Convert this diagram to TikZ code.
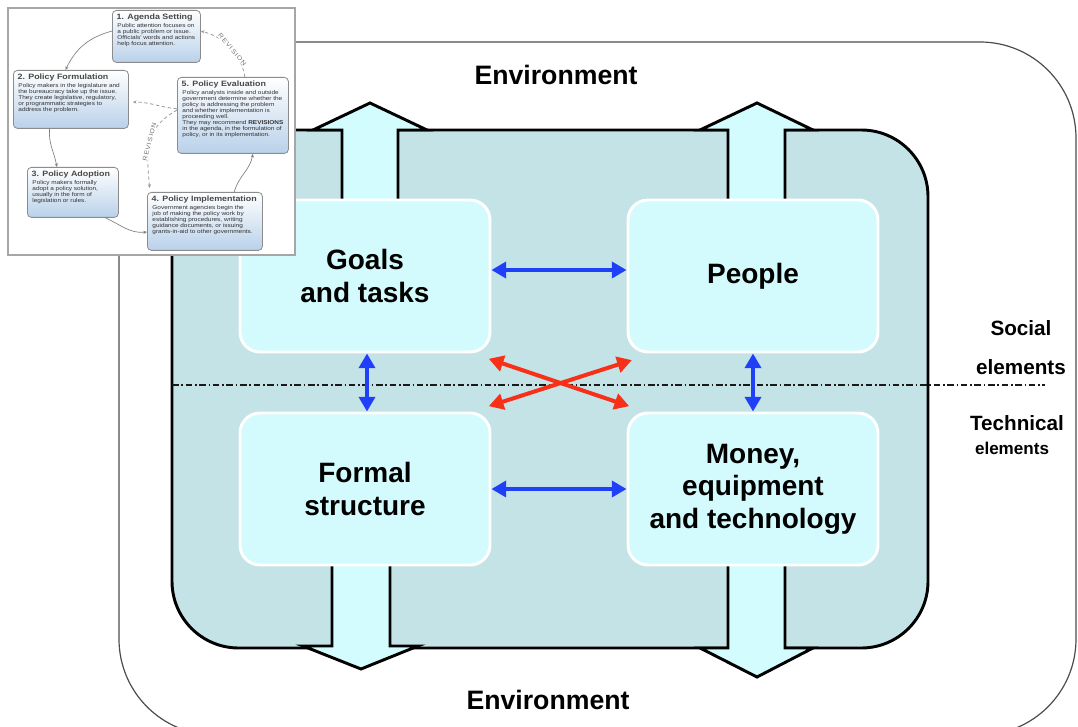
\documentclass[tikz,border=0pt]{standalone}
\usepackage{fontspec}
\setmainfont{Liberation Sans}
\newfontfamily\insetfont[FakeStretch=1.15]{Liberation Sans}
\newfontfamily\revfont[FakeStretch=1.15,LetterSpace=14]{Liberation Sans}
\usetikzlibrary{arrows.meta,calc}
\definecolor{tealbox}{HTML}{C4E3E7}
\definecolor{cyanbox}{HTML}{D3FBFD}
\definecolor{arrfill}{HTML}{D2FCFE}
\definecolor{bluearr}{HTML}{2040F8}
\definecolor{redarr}{HTML}{F83018}
\definecolor{insetblue}{HTML}{B9D1EA}
\newcommand{\polbox}[7]{%
  \node[ibox, minimum width=#4, minimum height=#5, anchor=north west] (#1) at (#2,#3) {};
  \node[ititle] (#1t) at ([xshift=3pt,yshift=-2.5pt]#1.north west) {#6};
  \node[ibody] (#1b) at ([xshift=0.6pt,yshift=-0.8pt]#1t.south west) {#7};
}
\begin{document}
\begin{tikzpicture}[x=0.75pt,y=-0.75pt,
  envbox/.style={draw=black!70, line width=0.9pt, rounded corners=72pt},
  mainbox/.style={draw=black, line width=2.2pt, fill=tealbox, rounded corners=50pt},
  bigarr/.style={fill=arrfill, draw=black, line width=2.2pt, line join=miter},
  elbox/.style={draw=white, line width=2.2pt, fill=cyanbox, rounded corners=15pt,
    minimum width=187.5pt, minimum height=114pt, align=center,
    font=\bfseries\fontsize{21}{24.5}\selectfont},
  bluelink/.style={draw=bluearr, line width=3pt,
    {Triangle[length=11pt,width=12pt]}-{Triangle[length=11pt,width=12pt]}},
  redlink/.style={draw=redarr, line width=3pt,
    {Triangle[length=11pt,width=12pt]}-{Triangle[length=11pt,width=12pt]}},
  divider/.style={draw=black!90, line width=1.2pt, dash pattern=on 5pt off 2pt on 1.2pt off 2pt},
  envlabel/.style={font=\bfseries\fontsize{20}{24}\selectfont},
  sidelabel/.style={font=\bfseries\fontsize{15.5}{18}\selectfont},
  sidesmall/.style={font=\bfseries\fontsize{12.8}{15}\selectfont},
  ibox/.style={draw=black!45, line width=0.6pt, rounded corners=3pt, top color=white, bottom color=insetblue},
  ititle/.style={anchor=north west, inner sep=0.3pt, font=\insetfont\bfseries\fontsize{5.8}{6.5}\selectfont, text=black!72},
  ibody/.style={anchor=north west, inner sep=0.3pt, align=left, font=\insetfont\fontsize{4.2}{4.45}\selectfont, text=black!80},
  iarr/.style={draw=black!50, line width=0.5pt, -{Stealth[length=2.8pt,width=2.4pt]}},
  idash/.style={draw=black!40, line width=0.6pt, dash pattern=on 2.5pt off 2pt, -{Stealth[length=2.8pt,width=2.4pt]}},
  ilab/.style={font=\revfont\fontsize{4.6}{5}\selectfont, text=black!55, fill=white, inner sep=0.4pt}
]
\useasboundingbox (0,0) rectangle (1078,727);
\fill[white] (0,0) rectangle (1078,727);

% environment and organisation
\draw[envbox] (119,42) rectangle (1076,735);
\draw[mainbox] (172,130) rectangle (928,648);

% exchange arrows with the environment
\path[bigarr] (342,206) -- (342,130) -- (313,130) -- (370,103) -- (427,130) -- (398,130) -- (398,206) -- cycle;
\path[bigarr] (728,206) -- (728,130) -- (700,130) -- (757,103) -- (813,130) -- (785,130) -- (785,206) -- cycle;
\path[bigarr] (332,558) -- (332,646) -- (303,646) -- (361,669) -- (418,646) -- (390,646) -- (390,558) -- cycle;
\path[bigarr] (728,558) -- (728,648) -- (700,648) -- (757,677) -- (813,648) -- (785,648) -- (785,558) -- cycle;

% elements
\node[elbox] (goals) at (365,276) {Goals\\and tasks};
\node[elbox] (people) at (753,276) {People};
\node[elbox] (formal) at (365,489) {Formal\\structure};
\node[elbox] (money) at (753,489) {Money,\\equipment\\and technology};

% divider
\coordinate (dl) at (172,385);
\coordinate (dr) at (1045,385);
\draw[divider] (dl) -- (dr);

% links
\draw[bluelink] ([yshift=4.5pt]goals.east) -- ([yshift=4.5pt]people.west);
\draw[bluelink] (formal.east) -- (money.west);
\draw[bluelink] ([xshift=1.5pt]goals.south) -- ([xshift=1.5pt]formal.north);
\draw[bluelink] (people.south) -- (money.north);
\draw[redlink] ([shift={(-2pt,-4pt)}]goals.south east) -- ([shift={(2pt,4pt)}]money.north west);
\draw[redlink] ([shift={(-2pt,4pt)}]formal.north east) -- ([shift={(4pt,-5pt)}]people.south west);

% labels
\node[envlabel] (envtop) at (556,75) {Environment};
\node[envlabel] (envbot) at (548,700) {Environment};
\node[sidelabel] (soc) at (1021,328) {Social};
\node[sidelabel] (socel) at (1021,367) {elements};
\node[sidelabel] (tech) at (1017,423) {Technical};
\node[sidesmall] (techel) at (1012,448) {elements};

% inset: policy cycle
\draw[draw=black!35, line width=0.8pt, fill=white] (8,8) rectangle (295,255);
\polbox{b1}{112}{10}{66pt}{39pt}{1. Agenda Setting}{Public attention focuses on\\a public problem or issue.\\Officials' words and actions\\help focus attention.}
\polbox{b2}{13}{70}{86.25pt}{43.5pt}{2. Policy Formulation}{Policy makers in the legislature and\\the bureaucracy take up the issue.\\They create legislative, regulatory,\\or programmatic strategies to\\address the problem.}
\polbox{b5}{177}{77}{83.25pt}{57pt}{5. Policy Evaluation}{Policy analysts inside and outside\\government determine whether the\\policy is addressing the problem\\and whether implementation is\\proceeding well.\\They may recommend \textbf{REVISIONS}\\in the agenda, in the formulation of\\policy, or in its implementation.}
\polbox{b3}{27}{167}{68.25pt}{37.5pt}{3. Policy Adoption}{Policy makers formally\\adopt a policy solution,\\usually in the form of\\legislation or rules.}
\polbox{b4}{147}{192}{86.25pt}{43.5pt}{4. Policy Implementation}{Government agencies begin the\\job of making the policy work by\\establishing procedures, writing\\guidance documents, or issuing\\grants-in-aid to other governments.}

\draw[iarr] ([yshift=4pt]b1.west) to[out=195,in=65] ([xshift=-4pt]b2.north);
\draw[iarr] ([xshift=-16pt]b2.south) to[out=-95,in=100] ([xshift=-12pt]b3.north);
\draw[iarr] ([xshift=-10pt]b3.south east) to[out=-25,in=185] ([yshift=-8pt]b4.west);
\draw[iarr] ([xshift=22pt]b4.north) to[out=75,in=-100] ([xshift=15pt]b5.south);
\draw[idash] ([xshift=9pt]b5.north) to[out=100,in=-15] node[pos=0.45, sloped, ilab] {REVISION} ([yshift=4pt]b1.east);
\draw[idash] ([yshift=5pt]b5.west) to[out=175,in=0] ([xshift=3pt,yshift=-2pt]b2.east);
\draw[idash] ([yshift=4pt]b5.west) to[out=210,in=95, looseness=1.2] node[midway, sloped, ilab] {REVISION} ([xshift=2pt,yshift=3pt]b4.north west);
\end{tikzpicture}
\end{document}
